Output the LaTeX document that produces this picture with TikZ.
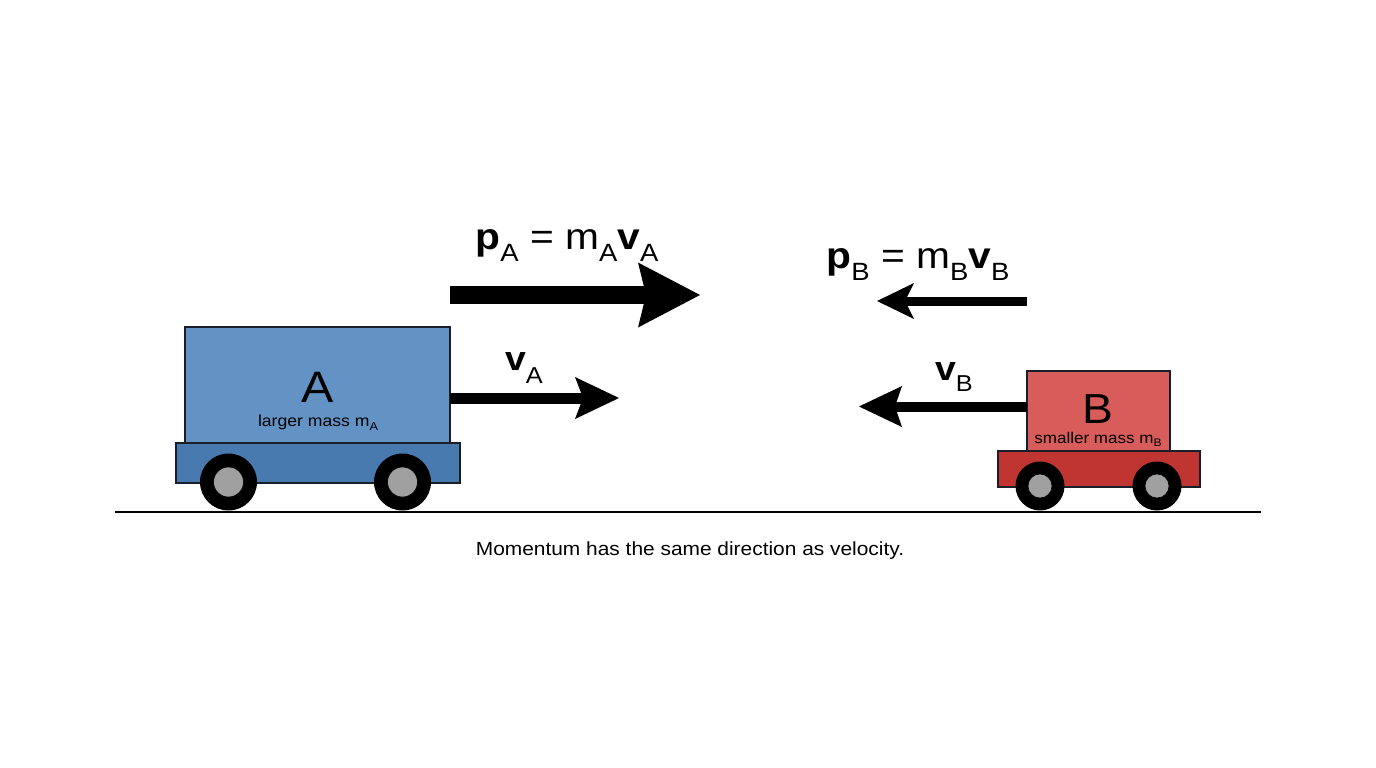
\documentclass[tikz,border=0pt]{standalone}
\usepackage{fontspec}
\setmainfont[FakeStretch=1.1]{Liberation Sans}
\usetikzlibrary{arrows.meta}
\definecolor{blueTop}{RGB}{99,146,196}
\definecolor{blueBase}{RGB}{72,122,176}
\definecolor{redTop}{RGB}{216,92,90}
\definecolor{redBase}{RGB}{192,52,50}
\definecolor{hubGray}{RGB}{160,160,160}
\definecolor{edge}{RGB}{25,30,40}
\newcommand{\dn}[3]{\raisebox{-#1}{\fontsize{#2}{#2}\selectfont #3}}
\newcommand{\fs}[1]{\fontsize{#1}{#1}\selectfont}
\tikzset{
  cartbox/.style={draw=edge, line width=1.5pt, inner sep=0pt, outer sep=0pt, rectangle},
  tyre/.style={circle, fill=black, inner sep=0pt, outer sep=0pt},
  hub/.style={circle, fill=hubGray, draw=black, line width=0.6pt, inner sep=0pt},
  lbl/.style={inner sep=0pt, outer sep=0pt, anchor=base, text=black},
}
\begin{document}
\begin{tikzpicture}[x=1pt,y=-1pt]
\useasboundingbox[fill=white] (0,0) rectangle (1376,768);

% ground
\coordinate (g1) at (115,511.5);
\coordinate (g2) at (1261,511.5);
\draw[line width=2pt, black] (g1) -- (g2);

% cart A
\node[cartbox, fill=blueBase, minimum width=284pt, minimum height=40pt] (baseA) at (318,463) {};
\node[cartbox, fill=blueTop, minimum width=265pt, minimum height=116pt] (bodyA) at (317.5,385) {};
\node[tyre, minimum size=57pt] (wA1) at (228.5,482) {};
\node[hub, minimum size=30pt] at (wA1) {};
\node[tyre, minimum size=57pt] (wA2) at (402.5,482) {};
\node[hub, minimum size=30pt] at (wA2) {};
\node[lbl] (tA) at (318,402) {\fs{44}A};
\node[lbl] (mA) at (318,426) {\fs{16}larger mass m\dn{4pt}{11.5}{A}};

% cart B
\node[cartbox, fill=redBase, minimum width=202pt, minimum height=36pt] (baseB) at (1099,469) {};
\node[cartbox, fill=redTop, minimum width=143pt, minimum height=80pt] (bodyB) at (1098.5,411) {};
\node[tyre, minimum size=49pt] (wB1) at (1040,486) {};
\node[hub, minimum size=24pt] at (wB1) {};
\node[tyre, minimum size=49pt] (wB2) at (1157,486) {};
\node[hub, minimum size=24pt] at (wB2) {};
\node[lbl] (tB) at (1098,423) {\fs{42}B};
\node[lbl] (mB) at (1098,443) {\fs{15.5}smaller mass m\dn{3pt}{11}{B}};

% momentum arrows
\coordinate (pAs) at (450,295);
\coordinate (pAe) at (700,295);
\draw[line width=18pt, -{Stealth[length=62pt,width=65pt,inset=8pt,line width=0pt]}] (pAs) -- (pAe);
\coordinate (pBs) at (1027,301);
\coordinate (pBe) at (877,301);
\draw[line width=9pt, -{Stealth[length=37pt,width=36pt,inset=9pt,line width=0pt]}] (pBs) -- (pBe);

% velocity arrows
\coordinate (vAs) at (bodyA.east |- 0,398);
\coordinate (vAe) at (619,398);
\draw[line width=11pt, -{Stealth[length=44pt,width=42pt,inset=8pt,line width=0pt]}] (vAs) -- (vAe);
\coordinate (vBs) at (bodyB.west |- 0,406.5);
\coordinate (vBe) at (859,406.5);
\draw[line width=10pt, -{Stealth[length=43pt,width=41pt,inset=7pt,line width=0pt]}] (vBs) -- (vBe);

% labels
\node[lbl] (lpA) at (567,249) {\fs{37}{\bfseries p}\dn{12pt}{25}{A} = m\dn{12pt}{25}{A}{\bfseries v}\dn{12pt}{25}{A}};
\node[lbl] (lpB) at (918,268) {\fs{37}{\bfseries p}\dn{12pt}{25}{B} = m\dn{12pt}{25}{B}{\bfseries v}\dn{12pt}{25}{B}};
\node[lbl] (lvA) at (524,370) {\fs{34}{\bfseries v}\dn{13pt}{23}{A}};
\node[lbl] (lvB) at (954,380) {\fs{34}{\bfseries v}\dn{11pt}{23}{B}};

% caption
\node[lbl] (cap) at (690,555) {\fs{19}Momentum has the same direction as velocity.};
\end{tikzpicture}
\end{document}
